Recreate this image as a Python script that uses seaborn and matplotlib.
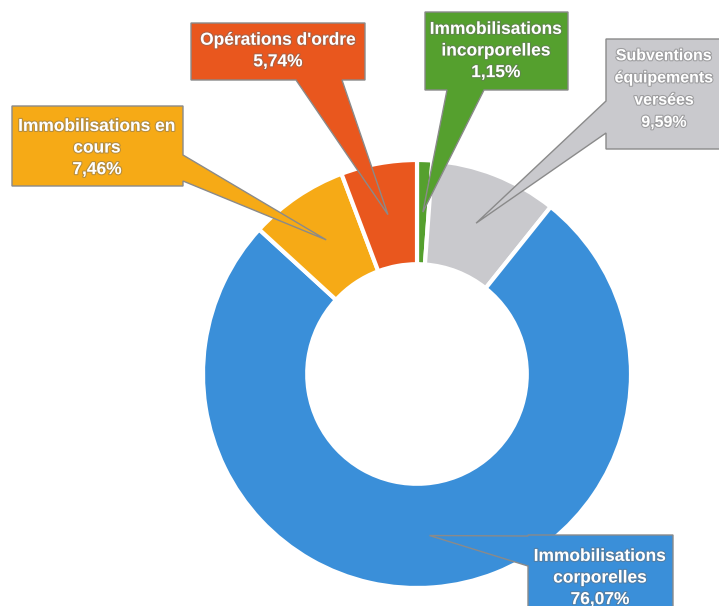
import numpy as np
import matplotlib
matplotlib.use("Agg")
import matplotlib.pyplot as plt
import matplotlib.patheffects as pe
from matplotlib.patches import Polygon
import seaborn as sns

# donnees (sens horaire depuis midi)
categories = ["Immobilisations\nincorporelles", "Subventions\néquipements\nversées",
              "Immobilisations\ncorporelles", "Immobilisations en\ncours",
              "Opérations d'ordre"]
parts = [1.15, 9.59, 76.07, 7.46, 5.74]
labels_pct = ["1,15%", "9,59%", "76,07%", "7,46%", "5,74%"]
colors = ["#55a02e", "#c9c9cd", "#3a8fd9", "#f6aa16", "#e9571e"]

sns.set_theme(style="white")
plt.rcParams['font.family'] = ['Liberation Sans Narrow', 'Liberation Sans', 'DejaVu Sans']

W, H = 719, 606
fig = plt.figure(figsize=(W / 100, H / 100), dpi=100)
ax = fig.add_axes([0, 0, 1, 1])

cx, cy, R = 417, H - 374, 214
wedges, _ = ax.pie(parts, colors=colors, startangle=90, counterclock=False,
                   radius=R, center=(cx, cy),
                   wedgeprops=dict(width=0.487 * R, edgecolor="white", linewidth=3))
ax.set_xlim(0, W)
ax.set_ylim(0, H)
ax.set_aspect("equal")
ax.axis("off")

# boites: (gauche, haut, droite, bas) en pixels, cote du pointeur, base du pointeur,
# centre du texte, taille, interligne
boxes = [
    ((425, 12, 568, 90), "bottom", (447, 484), (496, 51), 12.5, 1.55),
    ((606, 39, 730, 149), "left", (101, 133), (664, 89), 11.5, 1.6),
    ((528, 535, 673, 620), "left", (536, 566), (600, 578), 12.5, 1.55),
    ((12, 106, 183, 186), "right", (155, 181), (97, 148), 12.5, 1.55),
    ((191, 23, 365, 80), "bottom", (296, 342), (278, 51), 12.5, 1.55),
]


def P(x, y):
    return (x, H - y)


for w, (box, side, base, tpos, fs, ls), col, cat, pct in zip(wedges, boxes, colors, categories, labels_pct):
    mid = np.deg2rad((w.theta1 + w.theta2) / 2)
    tip = (cx + 0.757 * R * np.cos(mid), cy + 0.757 * R * np.sin(mid))
    l, t, r, b = box
    a0, a1 = base
    pts = [P(l, t), P(r, t)]
    if side == "right":
        pts += [P(r, a0), tip, P(r, a1)]
    pts += [P(r, b)]
    if side == "bottom":
        pts += [P(a1, b), tip, P(a0, b)]
    pts += [P(l, b)]
    if side == "left":
        pts += [P(l, a1), tip, P(l, a0)]
    ax.add_patch(Polygon(pts, closed=True, facecolor=col, edgecolor="#8a8a8a",
                         linewidth=1.0, zorder=5))
    ax.text(tpos[0], H - tpos[1], cat + "\n" + pct, ha="center", va="center", color="white",
            fontsize=fs, fontweight="bold", linespacing=ls, zorder=6,
            path_effects=[pe.withStroke(linewidth=1.6, foreground="#6b6b6b", alpha=0.45)])

fig.savefig("out.png", dpi=100)
